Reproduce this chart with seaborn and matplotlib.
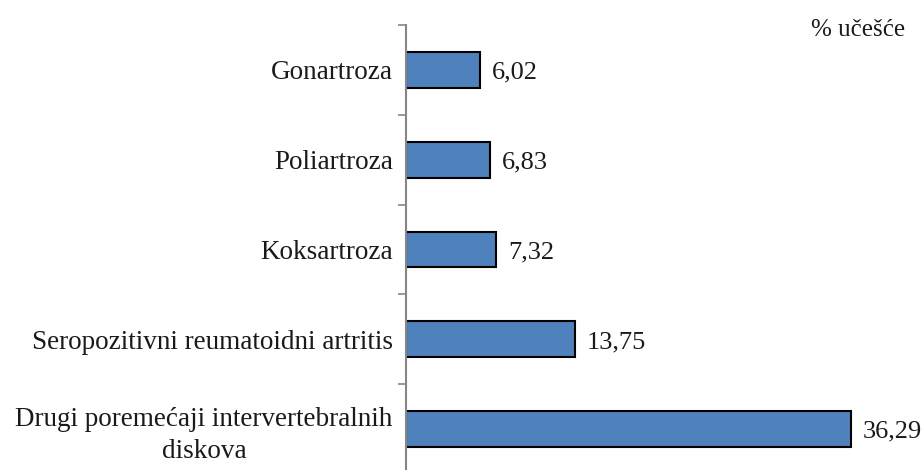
import matplotlib
matplotlib.use("Agg")
import matplotlib.pyplot as plt
import pandas as pd
import seaborn as sns
import numpy as np

# share of diagnoses (% učešće)
categories = ["Gonartroza", "Poliartroza", "Koksartroza",
              "Seropozitivni reumatoidni artritis",
              "Drugi poremećaji intervertebralnih\ndiskova"]
values = [6.02, 6.83, 7.32, 13.75, 36.29]
value_labels = ["6,02", "6,83", "7,32", "13,75", "36,29"]

df = pd.DataFrame({"dijagnoza": categories, "ucesce": values})

sns.set_style("white")
plt.rcParams["font.family"] = ["Liberation Serif", "DejaVu Serif"]

fig = plt.figure(figsize=(9.22, 4.70), dpi=100)
ax = fig.add_axes([406 / 922, -4 / 470, 504 / 922, 449 / 470])

sns.barplot(data=df, x="ucesce", y="dijagnoza", order=categories,
            color="#4F81BD", saturation=1, width=0.4,
            edgecolor="black", linewidth=1.5, ax=ax)

ax.set_xlim(0, 504 / 12.26)
ax.set_xlabel("")
ax.set_ylabel("")
ax.set_xticks([])

# boundary ticks (major) and category labels (minor)
n = len(categories)
ax.set_yticks(np.arange(-0.5, n, 1.0))
ax.set_yticklabels([])
ax.set_yticks(np.arange(n), minor=True)
ax.set_yticklabels(categories, minor=True, fontsize=19.5, color="#1a1a1a")
ax.tick_params(axis="y", which="major", length=6, width=1.2, color="#868686", left=True)
ax.tick_params(axis="y", which="minor", length=0, pad=9.5)
for lbl in ax.get_yticklabels(minor=True):
    lbl.set_multialignment("center")
    lbl.set_linespacing(1.35)

for s in ["top", "right", "bottom"]:
    ax.spines[s].set_visible(False)
ax.spines["left"].set_color("#868686")
ax.spines["left"].set_linewidth(1.5)

for i, (v, t) in enumerate(zip(values, value_labels)):
    ax.text(v + 1.0, i + 0.03, t, va="center", ha="left", fontsize=19, color="#1a1a1a")

fig.text(905 / 922, 1 - 30 / 470, "% učešće", ha="right", va="center",
         fontsize=18, color="#1a1a1a")

fig.savefig("out.png", dpi=100)
